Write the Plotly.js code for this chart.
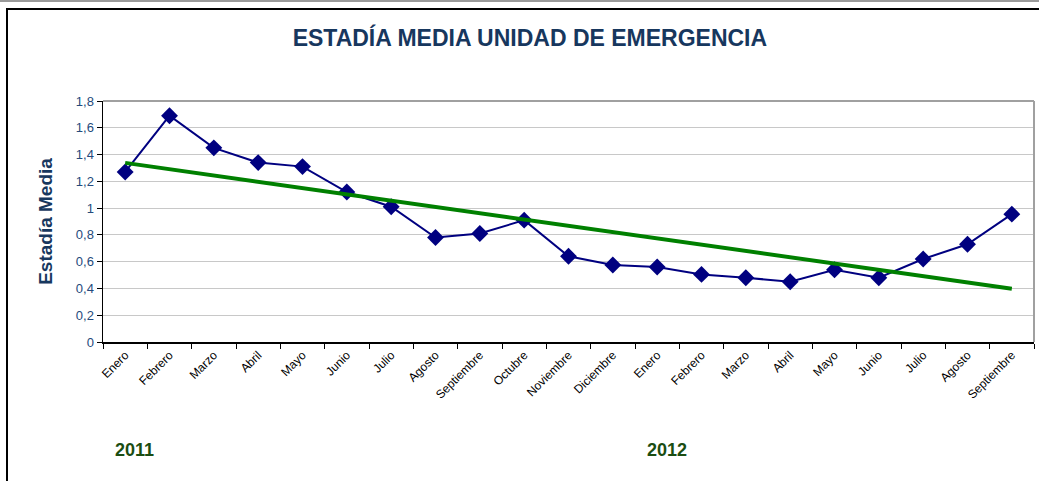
<!DOCTYPE html>
<html>
<head>
<meta charset="utf-8">
<script src="https://cdn.plot.ly/plotly-3.0.1.min.js"></script>
<style>
  html, body { margin: 0; padding: 0; background: #fff; }
  #frame { position: absolute; left: 6px; top: 8px; width: 1040px; height: 480px;
           border-left: 2px solid #000; border-top: 2px solid #000; pointer-events: none; }
  #topline { position: absolute; left: 0; top: 0; width: 1039px; height: 2px; background: #9a9a9a; pointer-events: none; }
  #chart { width: 1039px; height: 481px; }
</style>
</head>
<body>
<div id="chart"></div>
<div id="topline"></div>
<div id="frame"></div>
<script>
const meses = ["Enero","Febrero","Marzo","Abril","Mayo","Junio","Julio","Agosto","Septiembre","Octubre","Noviembre","Diciembre",
               "Enero","Febrero","Marzo","Abril","Mayo","Junio","Julio","Agosto","Septiembre"];
const estadia = [1.27,1.69,1.45,1.34,1.31,1.12,1.01,0.78,0.81,0.91,0.64,0.575,
                 0.56,0.505,0.48,0.45,0.54,0.48,0.62,0.73,0.955];
const anios = ["2011","2012"];
const anioInicio = [0, 12];

const idx = meses.map((_, i) => i);
// Linear trendline (least squares) like the spreadsheet trend line
const n = estadia.length;
const mx = idx.reduce((a,b)=>a+b,0)/n;
const my = estadia.reduce((a,b)=>a+b,0)/n;
let sxy = 0, sxx = 0;
idx.forEach((x,i)=>{ sxy += (x-mx)*(estadia[i]-my); sxx += (x-mx)*(x-mx); });
const slope = sxy/sxx, icpt = my - slope*mx;
const trendX = [idx[0], idx[n-1]];
const trendY = trendX.map(x => icpt + slope*x);

const traces = [
  { x: idx, y: estadia, type: 'scatter', mode: 'lines+markers',
    line: { color: '#000080', width: 2 },
    marker: { symbol: 'diamond', size: 13, color: '#000080' },
    hoverinfo: 'y', showlegend: false },
  { x: trendX, y: trendY, type: 'scatter', mode: 'lines',
    line: { color: '#008000', width: 4 }, showlegend: false, hoverinfo: 'skip' }
];

const layout = {
  width: 1039, height: 481,
  margin: { l: 103, r: 5, t: 101, b: 139 },
  paper_bgcolor: '#fff', plot_bgcolor: '#fff',
  separators: ',.',
  font: { family: 'Liberation Sans, Arial, sans-serif' },
  title: { text: '<b>ESTADÍA MEDIA UNIDAD DE EMERGENCIA</b>',
           font: { size: 23, color: '#17375e', family: 'Liberation Sans, Arial, sans-serif' },
           xref: 'container', yref: 'container', x: 0.51, xanchor: 'center', y: 0.921, yanchor: 'middle' },
  xaxis: {
    range: [-0.5, n - 0.5], tickmode: 'array', tickvals: idx, ticktext: meses,
    tickangle: -45, tickfont: { size: 12, color: '#000' },
    ticks: '', showgrid: false, zeroline: false,
    showline: true, linecolor: '#000', linewidth: 1.5,
    minor: { tick0: -0.5, dtick: 1, ticks: 'outside', ticklen: 5, tickcolor: '#000', tickwidth: 1, showgrid: false },
    mirror: false, fixedrange: true
  },
  yaxis: {
    range: [0, 1.8], dtick: 0.2, tick0: 0,
    tickfont: { size: 13, color: '#254a7c' },
    ticks: 'outside', ticklen: 5, tickcolor: '#000',
    showline: true, linecolor: '#000', linewidth: 1.5,
    gridcolor: '#c8c8c8', gridwidth: 1, zeroline: false,
    title: { text: '<b>Estadía Media</b>', font: { size: 19, color: '#17375e' }, standoff: 18 },
    fixedrange: true
  },
  shapes: [
    { type: 'line', xref: 'paper', yref: 'paper', x0: 0, x1: 1, y0: 1, y1: 1, line: { color: '#a0a0a0', width: 2 } },
    { type: 'line', xref: 'paper', yref: 'paper', x0: 1, x1: 1, y0: 0, y1: 1, line: { color: '#a0a0a0', width: 2 } }
  ],
  annotations: anios.map((a, k) => ({
    text: '<b>' + a + '</b>', xref: 'x', yref: 'paper', x: anioInicio[k] + 0.22, y: -0.45,
    showarrow: false, xanchor: 'center', yanchor: 'middle',
    font: { size: 18, color: '#1b4d12', family: 'Liberation Sans, Arial, sans-serif' }
  }))
};

Plotly.newPlot('chart', traces, layout, { displayModeBar: false, staticPlot: true });
</script>
</body>
</html>
